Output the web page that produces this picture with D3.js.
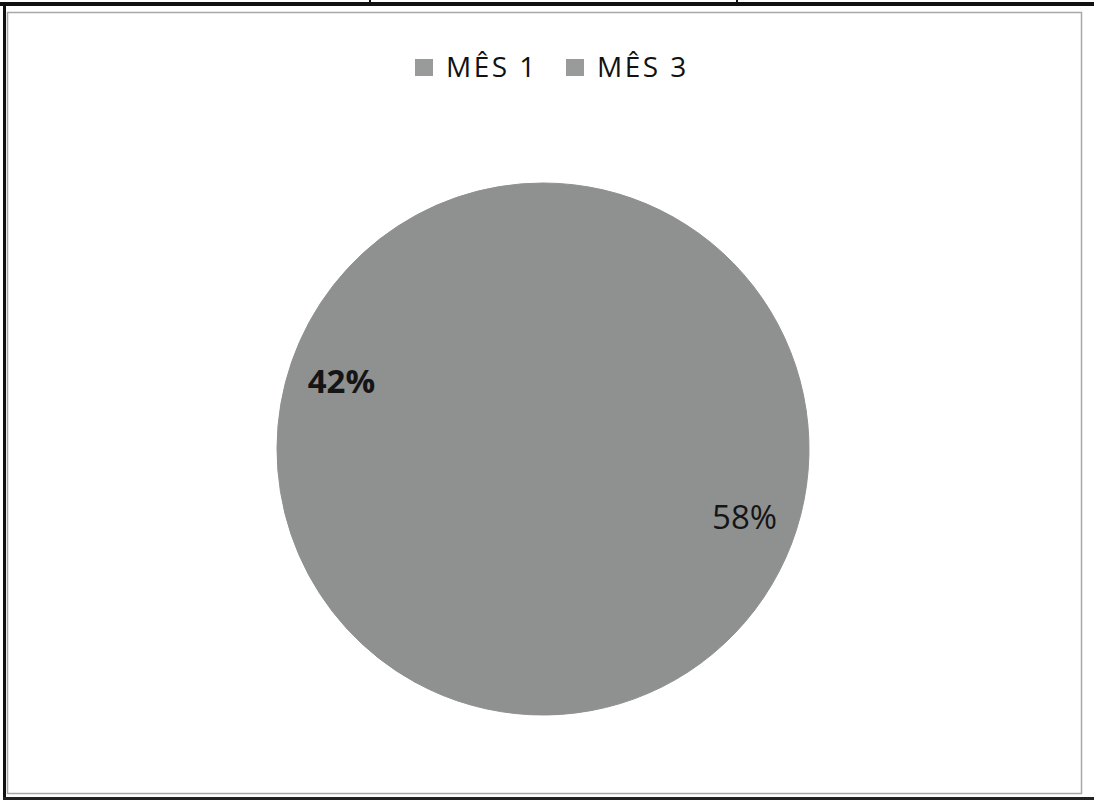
<!DOCTYPE html>
<html>

<head>
    <meta charset='utf-8' />
    <title>MÊS 1 / MÊS 3 pie</title>
    <script charset="utf-8" src="https://d3js.org/d3.v7.min.js"></script>
    <style>
        body {
            margin: 0;
            background: #fff;
            font-family: 'Open Sans', 'Noto Sans', Arial, sans-serif;
        }
    </style>
</head>

<body>
    <div id="chartContainer"></div>
</body>

<script>
    // chart values
    var categories = ["MÊS 1", "MÊS 3"]
    var values = [58, 42]
    var labels = ["58%", "42%"]

    var width = 1094
    var height = 803
    var svg = d3.select("#chartContainer").append("svg")
        .attr("width", width)
        .attr("height", height)

    // scanned page frame: table lines around the chart
    svg.append("rect").attr("x", 0).attr("y", 2).attr("width", width).attr("height", 4).attr("fill", "#111")
    svg.append("rect").attr("x", 369).attr("y", 0).attr("width", 2).attr("height", 5).attr("fill", "#111")
    svg.append("rect").attr("x", 736).attr("y", 0).attr("width", 2).attr("height", 5).attr("fill", "#111")
    svg.append("rect").attr("x", 3).attr("y", 2).attr("width", 3).attr("height", 798).attr("fill", "#111")
    svg.append("rect").attr("x", 3).attr("y", 797).attr("width", width - 3).attr("height", 3).attr("fill", "#222")

    // chart area border
    svg.append("rect")
        .attr("x", 7.5).attr("y", 12.5)
        .attr("width", 1074).attr("height", 781)
        .attr("fill", "none")
        .attr("stroke", "#a8a8a8")
        .attr("stroke-width", 1.5)

    var cx = 543, cy = 449, r = 266
    var color = d3.scaleOrdinal().domain(categories).range(["#8f9191", "#8f9191"])

    var pie = d3.pie().sort(null).value(function (d, i) { return values[i] })
    var arcs = pie(categories)
    var arc = d3.arc().innerRadius(0).outerRadius(r)
    var labelArc = d3.arc().innerRadius(r * 0.8).outerRadius(r * 0.8)
    // excel "best fit" puts the labels a little further round than the slice middle
    var labelTurn = 0.075

    var g = svg.append("g").attr("transform", "translate(" + cx + "," + cy + ")")

    g.selectAll("path.slice")
        .data(arcs)
        .enter()
        .append("path")
        .attr("class", "slice")
        .attr("d", arc)
        .attr("fill", function (d) { return color(d.data) })
        .attr("stroke", function (d) { return color(d.data) })
        .attr("stroke-width", 1)

    function labelPos(d) {
        return labelArc.centroid({ startAngle: d.startAngle + labelTurn, endAngle: d.endAngle + labelTurn })
    }

    g.selectAll("text.pct")
        .data(arcs)
        .enter()
        .append("text")
        .attr("class", "pct")
        .attr("x", function (d) { return labelPos(d)[0] })
        .attr("y", function (d) { return labelPos(d)[1] })
        .attr("text-anchor", "middle")
        .attr("dy", "0.36em")
        .style("font-size", "33px")
        .style("font-weight", function (d, i) { return i == 1 ? "bold" : "normal" })
        .style("fill", "#151515")
        .text(function (d, i) { return labels[i] })

    // legend
    var legendX = [415, 566]
    var legend = svg.selectAll("g.legend")
        .data(categories)
        .enter()
        .append("g")
        .attr("class", "legend")
        .attr("transform", function (d, i) { return "translate(" + legendX[i] + ",59)" })

    legend.append("rect")
        .attr("width", 18)
        .attr("height", 17)
        .attr("fill", "#999a9a")

    legend.append("text")
        .attr("x", 31)
        .attr("y", 18)
        .style("font-size", "28px")
        .style("letter-spacing", "2.5px")
        .style("fill", "#111")
        .text(function (d) { return d })
</script>

</html>
